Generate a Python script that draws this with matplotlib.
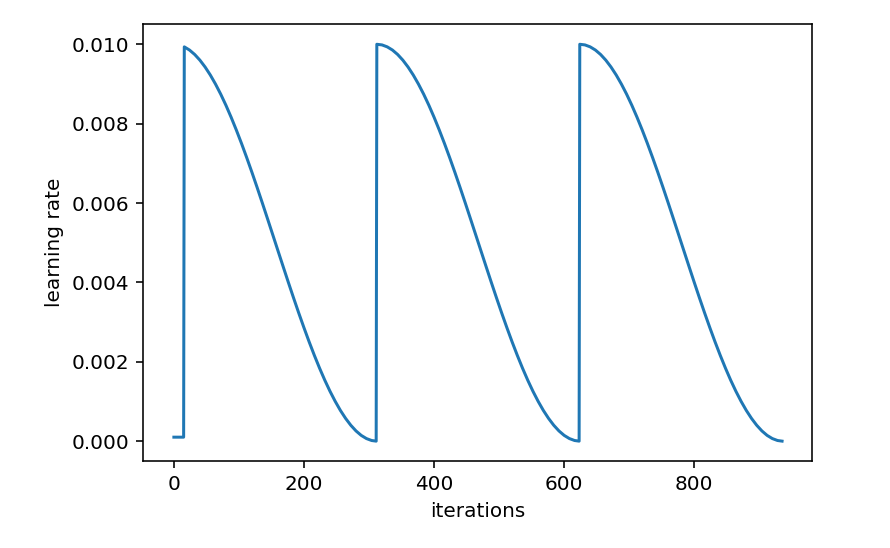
import numpy as np
import matplotlib
matplotlib.use("Agg")
import matplotlib.pyplot as plt

# warmup at the start of the first cycle
warmup_iters = [0, 15]
warmup_lr = [0.0001, 0.0001]

# each restart begins at these iterations
cycle_starts = [0, 312, 624]

cycle_offsets = [0, 8, 16, 24, 32, 40, 48, 56, 64, 72, 80, 88, 96, 104, 112,
                 120, 128, 136, 144, 152, 160, 168, 176, 184, 192, 200, 208,
                 216, 224, 232, 240, 248, 256, 264, 272, 280, 288, 296, 304,
                 311]
cycle_lr = [0.010000, 0.009984, 0.009935, 0.009855, 0.009743, 0.009600,
            0.009427, 0.009226, 0.008997, 0.008743, 0.008464, 0.008162,
            0.007840, 0.007500, 0.007143, 0.006773, 0.006391, 0.006000,
            0.005602, 0.005201, 0.004799, 0.004398, 0.004000, 0.003609,
            0.003227, 0.002857, 0.002500, 0.002160, 0.001838, 0.001536,
            0.001257, 0.001003, 0.000774, 0.000573, 0.000400, 0.000257,
            0.000145, 0.000065, 0.000016, 0.000000]


def build_series():
    iters = list(warmup_iters)
    lrs = list(warmup_lr)
    for k, start in enumerate(cycle_starts):
        for off, lr in zip(cycle_offsets, cycle_lr):
            # first cycle: the warmup replaces the early part
            if k == 0 and off < 16:
                continue
            iters.append(start + off)
            lrs.append(lr)
    return np.array(iters), np.array(lrs)


def main():
    x, y = build_series()

    fig = plt.figure(figsize=(890 / 144, 548 / 144), dpi=144)
    ax = fig.add_axes([0.1612, 0.1588, 0.7517, 0.7966])
    ax.plot(x, y, color="#1f77b4", linewidth=1.5)
    ax.set_xlabel("iterations")
    ax.set_ylabel("learning rate")
    ax.set_xticks([0, 200, 400, 600, 800])
    ax.set_yticks([0.0, 0.002, 0.004, 0.006, 0.008, 0.010])
    ax.set_yticklabels(["0.000", "0.002", "0.004", "0.006", "0.008", "0.010"])

    fig.savefig("out.png", dpi=144)
    plt.close(fig)


if __name__ == "__main__":
    main()
